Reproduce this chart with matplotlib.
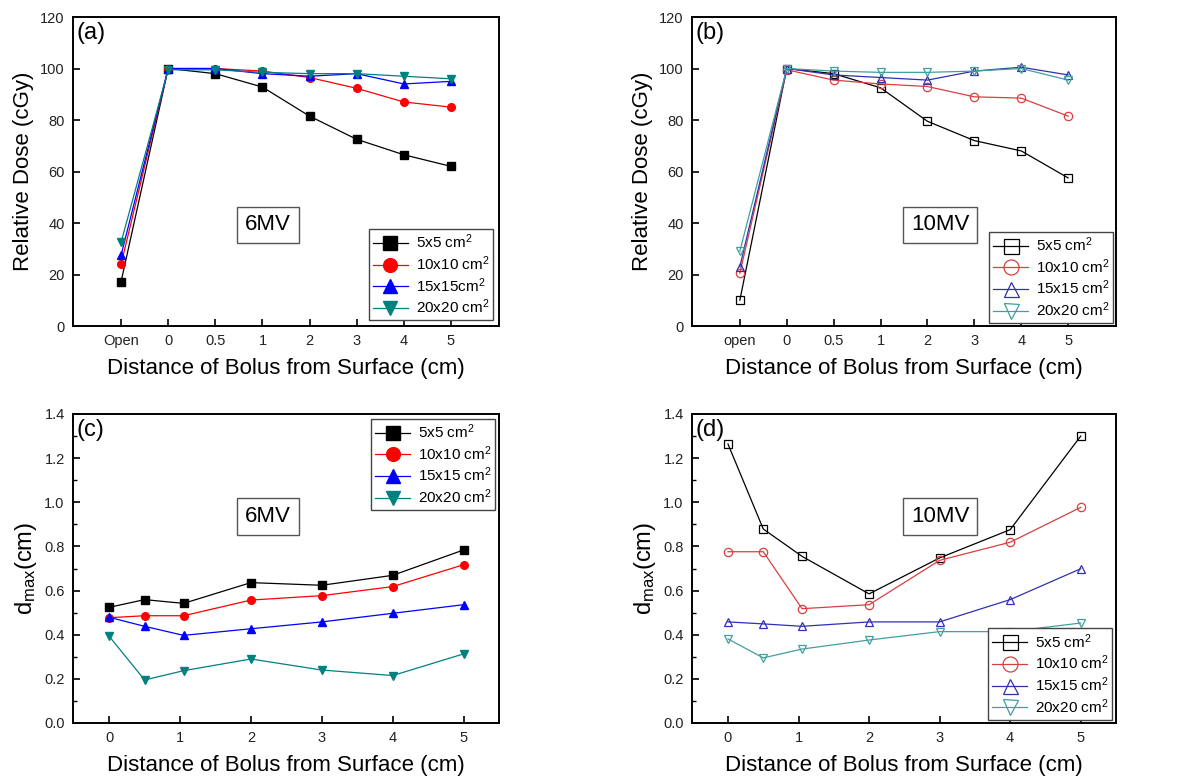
import matplotlib
matplotlib.use("Agg")
import matplotlib.pyplot as plt
import numpy as np
from matplotlib.ticker import MultipleLocator

plt.rcParams['font.family'] = ['Liberation Sans', 'DejaVu Sans']
plt.rcParams['mathtext.default'] = 'regular'

# ---- data ----
cats_a = ["Open", "0", "0.5", "1", "2", "3", "4", "5"]
cats_b = ["open", "0", "0.5", "1", "2", "3", "4", "5"]
labels_a = ["5x5 cm$^2$", "10x10 cm$^2$", "15x15cm$^2$", "20x20 cm$^2$"]
labels_b = ["5x5 cm$^2$", "10x10 cm$^2$", "15x15 cm$^2$", "20x20 cm$^2$"]

dose6_5 = [17.2, 100, 98, 92.8, 81.5, 72.5, 66.5, 62]
dose6_10 = [24, 100, 100, 99, 96.5, 92.3, 87, 85]
dose6_15 = [27.5, 100, 100, 98, 97, 98, 94, 95]
dose6_20 = [32.5, 99.5, 99.5, 98.5, 98, 98, 97, 96]

dose10_5 = [10, 100, 98, 92.5, 79.5, 72, 68, 57.5]
dose10_10 = [20.5, 99.5, 95.5, 94, 93, 89, 88.5, 81.5]
dose10_15 = [23, 100, 97.5, 96.5, 95.5, 99, 100.5, 97.5]
dose10_20 = [29, 100, 99, 98.5, 98.5, 99, 100, 95.5]

dist = [0, 0.5, 1.05, 2, 3, 4, 5]
dmax6_5 = [0.524, 0.559, 0.542, 0.636, 0.624, 0.669, 0.784]
dmax6_10 = [0.477, 0.486, 0.486, 0.557, 0.577, 0.618, 0.717]
dmax6_15 = [0.479, 0.438, 0.397, 0.427, 0.458, 0.497, 0.536]
dmax6_20 = [0.393, 0.195, 0.237, 0.290, 0.240, 0.215, 0.313]

dmax10_5 = [1.264, 0.879, 0.755, 0.585, 0.748, 0.876, 1.30]
dmax10_10 = [0.776, 0.776, 0.518, 0.536, 0.737, 0.819, 0.977]
dmax10_15 = [0.458, 0.449, 0.438, 0.458, 0.458, 0.559, 0.699]
dmax10_20 = [0.381, 0.295, 0.335, 0.376, 0.414, 0.414, 0.453]

filled_colors = ["black", "red", "blue", "#008080"]
open_colors = ["black", "#d84040", "#3030b0", "#40a0a0"]
markers = ["s", "o", "^", "v"]

fig = plt.figure(figsize=(11.88, 7.79), dpi=100)
W, H = 1188, 779

def make_ax(l, t, r, b):
    return fig.add_axes([l / W, 1 - b / H, (r - l) / W, (b - t) / H])

ax_a = make_ax(73, 17, 499, 326)
ax_b = make_ax(692, 17, 1116, 326)
ax_c = make_ax(73, 414, 499, 723)
ax_d = make_ax(692, 414, 1116, 723)

tick_fs = 10.5
lab_fs = 16
leg_fs = 11


def style(ax):
    for s in ax.spines.values():
        s.set_linewidth(1.4)
    ax.tick_params(direction='in', length=5, width=1.2, labelsize=tick_fs,
                   colors='black', labelcolor='#222222', pad=6)
    ax.tick_params(which='minor', direction='in', length=3, width=1.0)


def add_legend(ax, loc, anchor):
    leg = ax.legend(loc=loc, bbox_to_anchor=anchor, borderaxespad=0,
                    fontsize=leg_fs, markerscale=1.8, handlelength=2.3,
                    labelspacing=0.2, fancybox=False, edgecolor='#444444',
                    framealpha=1, borderpad=0.25, handletextpad=0.5)
    leg.get_frame().set_linewidth(1.0)


def draw_top(ax, cats, series, labels, colors, filled, ms, panel, tag, tagx, leg_anchor):
    x = np.arange(len(cats))
    for ys, lab, c, m in zip(series, labels, colors, markers):
        if filled:
            ax.plot(x, ys, color=c, lw=0.9, marker=m, ms=ms, mfc=c, mec=c, label=lab)
        else:
            ax.plot(x, ys, color=c, lw=0.9, marker=m, ms=ms, mfc='none', mec=c,
                    mew=0.9, label=lab)
    ax.set_xlim(-1.02, 8.02)
    ax.set_ylim(0, 120)
    ax.set_xticks(x)
    ax.set_xticklabels(cats)
    ax.yaxis.set_major_locator(MultipleLocator(20))
    ax.set_xlabel("Distance of Bolus from Surface (cm)", fontsize=lab_fs, labelpad=7)
    ax.set_ylabel("Relative Dose (cGy)", fontsize=lab_fs, labelpad=4)
    style(ax)
    ax.text(0.008, 0.985, panel, transform=ax.transAxes, fontsize=17, va='top', ha='left')
    ax.text(tagx, 0.327, tag, transform=ax.transAxes, fontsize=16, va='center', ha='center',
            bbox=dict(boxstyle='square,pad=0.35', fc='white', ec='#555555', lw=1.0))
    add_legend(ax, 'lower right', leg_anchor)


def draw_bottom(ax, series, labels, colors, filled, ms, panel, tag, tagx, leg_loc, leg_anchor):
    for ys, lab, c, m in zip(series, labels, colors, markers):
        if filled:
            ax.plot(dist, ys, color=c, lw=0.9, marker=m, ms=ms, mfc=c, mec=c, label=lab)
        else:
            ax.plot(dist, ys, color=c, lw=0.9, marker=m, ms=ms, mfc='none', mec=c,
                    mew=0.9, label=lab)
    ax.set_xlim(-0.51, 5.5)
    ax.set_ylim(0, 1.4)
    ax.set_xticks([0, 1, 2, 3, 4, 5])
    ax.yaxis.set_major_locator(MultipleLocator(0.2))
    ax.yaxis.set_minor_locator(MultipleLocator(0.1))
    ax.yaxis.set_major_formatter(matplotlib.ticker.FormatStrFormatter('%.1f'))
    ax.set_xlabel("Distance of Bolus from Surface (cm)", fontsize=lab_fs, labelpad=7)
    ax.set_ylabel("d$_{max}$(cm)", fontsize=lab_fs + 1, labelpad=4)
    style(ax)
    ax.text(0.008, 0.985, panel, transform=ax.transAxes, fontsize=17, va='top', ha='left')
    ax.text(tagx, 0.668, tag, transform=ax.transAxes, fontsize=16, va='center', ha='center',
            bbox=dict(boxstyle='square,pad=0.35', fc='white', ec='#555555', lw=1.0))
    add_legend(ax, leg_loc, leg_anchor)


draw_top(ax_a, cats_a, [dose6_5, dose6_10, dose6_15, dose6_20], labels_a,
         filled_colors, True, 5.5, "(a)", "6MV", 0.458, (0.986, 0.019))
draw_top(ax_b, cats_b, [dose10_5, dose10_10, dose10_15, dose10_20], labels_b,
         open_colors, False, 6, "(b)", "10MV", 0.586, (0.994, 0.01))
draw_bottom(ax_c, [dmax6_5, dmax6_10, dmax6_15, dmax6_20], labels_b,
            filled_colors, True, 5.5, "(c)", "6MV", 0.458, 'upper right', (0.991, 0.985))
draw_bottom(ax_d, [dmax10_5, dmax10_10, dmax10_15, dmax10_20], labels_b,
            open_colors, False, 6, "(d)", "10MV", 0.586, 'lower right', (0.991, 0.011))

fig.savefig("out.png", dpi=100)
